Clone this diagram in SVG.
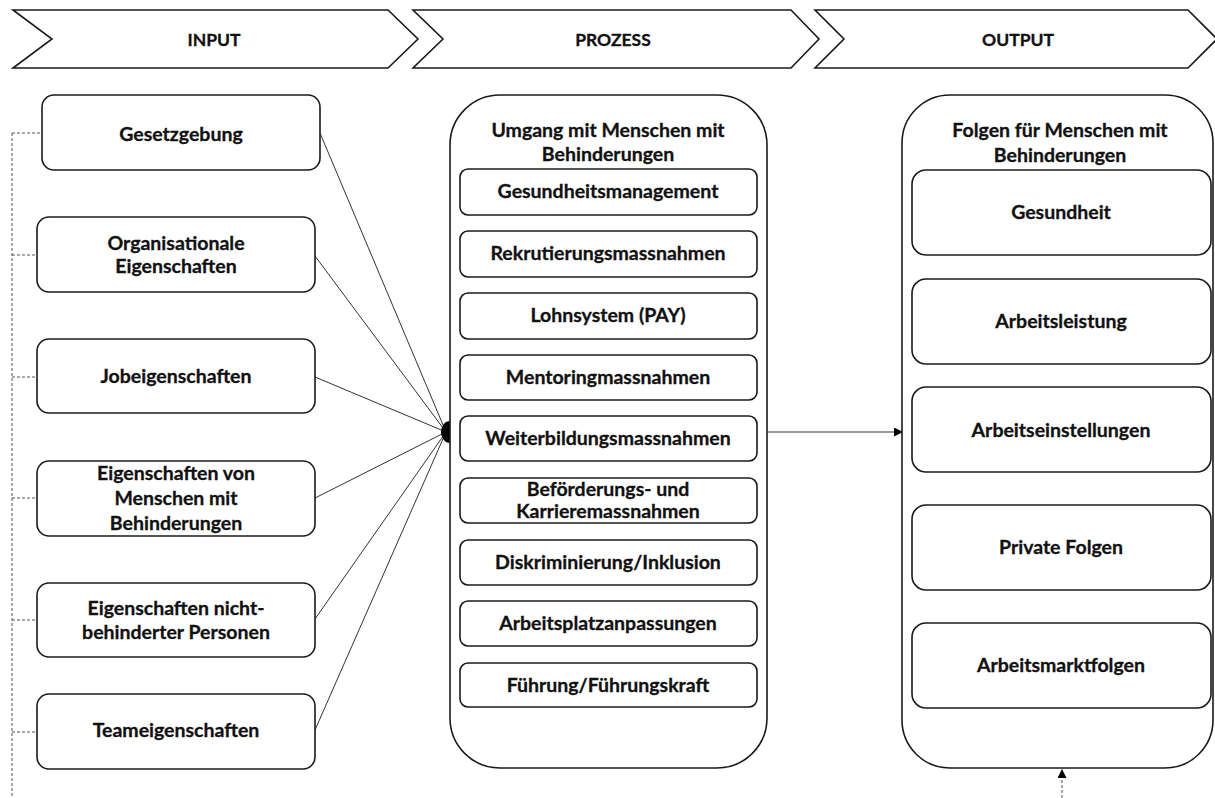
<svg xmlns="http://www.w3.org/2000/svg" width="1215" height="798" viewBox="0 0 1215 798">
<style>
  .shape { fill: #ffffff; stroke: #1a1a1a; stroke-width: 1.6; }
  .t { font-family: Lato, "Open Sans", "Liberation Sans", sans-serif; font-weight: bold; font-size: 19.5px; fill: #111111; stroke: #111111; stroke-width: 0.3; text-anchor: middle; }
  .th { font-family: Lato, "Open Sans", "Liberation Sans", sans-serif; font-weight: bold; font-size: 17.5px; fill: #111111; stroke: #111111; stroke-width: 0.3; text-anchor: middle; }
  .conn { stroke: #333333; stroke-width: 1; fill: none; }
  .dash { stroke: #555555; stroke-width: 1; fill: none; stroke-dasharray: 3 2; }
</style>
<defs>
  <marker id="arr" viewBox="0 0 10 10" refX="10" refY="5" markerWidth="9" markerHeight="9" markerUnits="userSpaceOnUse" orient="auto">
    <path d="M0,0 L10,5 L0,10 Z" fill="#000000"/>
  </marker>
</defs>

<g id="phase-input">
  <path class="shape" d="M13,10 L388,10 L418,39 L388,68 L13,68 L52,39 Z"/>
  <text class="th" x="214" y="46">INPUT</text>
</g>
<g id="phase-prozess">
  <path class="shape" d="M413,10 L791,10 L819,39 L791,68 L413,68 L443,39 Z"/>
  <text class="th" x="613" y="46">PROZESS</text>
</g>
<g id="phase-output">
  <path class="shape" d="M815,10 L1188,10 L1217,39 L1188,68 L815,68 L844,39 Z"/>
  <text class="th" x="1018" y="46">OUTPUT</text>
</g>

<g id="connectors">
  <path class="dash" d="M12,133 L12,798"/>
  <path class="dash" d="M12,133 L42,133"/>
  <path class="dash" d="M12,255 L37,255"/>
  <path class="dash" d="M12,377 L37,377"/>
  <path class="dash" d="M12,498 L37,498"/>
  <path class="dash" d="M12,620 L37,620"/>
  <path class="dash" d="M12,732 L37,732"/>
  <path class="conn" d="M320,133 L446,432"/>
  <path class="conn" d="M315,256 L446,432"/>
  <path class="conn" d="M315,377 L446,432"/>
  <path class="conn" d="M315,498 L446,432"/>
  <path class="conn" d="M315,619 L446,432"/>
  <path class="conn" d="M315,730 L446,432"/>
  <path d="M450,421 A9,11 0 0 0 450,443 Z" fill="#000000"/>
  <path class="conn" d="M767,432 L903,432" marker-end="url(#arr)"/>
  <path class="dash" d="M1062,798 L1062,769" marker-end="url(#arr)"/>
</g>

<g id="in-gesetzgebung">
  <rect class="shape" x="42" y="95" width="278" height="75" rx="12"/>
  <text class="t" x="181" y="141">Gesetzgebung</text>
</g>
<g id="in-organisationale">
  <rect class="shape" x="37" y="217" width="278" height="75" rx="12"/>
  <text class="t" x="176" y="250">Organisationale</text>
  <text class="t" x="176" y="273">Eigenschaften</text>
</g>
<g id="in-job">
  <rect class="shape" x="37" y="339" width="278" height="74" rx="12"/>
  <text class="t" x="176" y="383">Jobeigenschaften</text>
</g>
<g id="in-menschen">
  <rect class="shape" x="37" y="461" width="278" height="75" rx="12"/>
  <text class="t" x="176" y="480">Eigenschaften von</text>
  <text class="t" x="176" y="505">Menschen mit</text>
  <text class="t" x="176" y="530">Behinderungen</text>
</g>
<g id="in-nichtbehindert">
  <rect class="shape" x="37" y="583" width="278" height="74" rx="12"/>
  <text class="t" x="176" y="615">Eigenschaften nicht-</text>
  <text class="t" x="176" y="639">behinderter Personen</text>
</g>
<g id="in-team">
  <rect class="shape" x="37" y="694" width="278" height="75" rx="12"/>
  <text class="t" x="176" y="737">Teameigenschaften</text>
</g>

<g id="prozess">
  <rect class="shape" x="450" y="95" width="317" height="673" rx="50"/>
  <text class="t" x="608" y="137">Umgang mit Menschen mit</text>
  <text class="t" x="608" y="161">Behinderungen</text>
</g>
<g id="p-gesundheit">
  <rect class="shape" x="460" y="169" width="297" height="46" rx="8"/>
  <text class="t" x="608" y="198">Gesundheitsmanagement</text>
</g>
<g id="p-rekrutierung">
  <rect class="shape" x="460" y="231" width="297" height="46" rx="8"/>
  <text class="t" x="608" y="260">Rekrutierungsmassnahmen</text>
</g>
<g id="p-lohn">
  <rect class="shape" x="460" y="293" width="297" height="46" rx="8"/>
  <text class="t" x="608" y="322">Lohnsystem (PAY)</text>
</g>
<g id="p-mentoring">
  <rect class="shape" x="460" y="355" width="297" height="45" rx="8"/>
  <text class="t" x="608" y="384">Mentoringmassnahmen</text>
</g>
<g id="p-weiterbildung">
  <rect class="shape" x="460" y="416" width="297" height="45" rx="8"/>
  <text class="t" x="608" y="445">Weiterbildungsmassnahmen</text>
</g>
<g id="p-befoerderung">
  <rect class="shape" x="460" y="478" width="297" height="45" rx="8"/>
  <text class="t" x="608" y="496">Beförderungs- und</text>
  <text class="t" x="608" y="518">Karrieremassnahmen</text>
</g>
<g id="p-diskriminierung">
  <rect class="shape" x="460" y="540" width="297" height="45" rx="8"/>
  <text class="t" x="608" y="569">Diskriminierung/Inklusion</text>
</g>
<g id="p-arbeitsplatz">
  <rect class="shape" x="460" y="601" width="297" height="45" rx="8"/>
  <text class="t" x="608" y="630">Arbeitsplatzanpassungen</text>
</g>
<g id="p-fuehrung">
  <rect class="shape" x="460" y="663" width="297" height="44" rx="8"/>
  <text class="t" x="608" y="692">Führung/Führungskraft</text>
</g>

<g id="output">
  <rect class="shape" x="902" y="95" width="311" height="673" rx="48"/>
  <text class="t" x="1060" y="137">Folgen für Menschen mit</text>
  <text class="t" x="1060" y="162">Behinderungen</text>
</g>
<g id="o-gesundheit">
  <rect class="shape" x="912" y="170" width="299" height="85" rx="14"/>
  <text class="t" x="1061" y="219">Gesundheit</text>
</g>
<g id="o-arbeitsleistung">
  <rect class="shape" x="912" y="279" width="299" height="85" rx="14"/>
  <text class="t" x="1061" y="328">Arbeitsleistung</text>
</g>
<g id="o-arbeitseinstellungen">
  <rect class="shape" x="912" y="387" width="299" height="85" rx="14"/>
  <text class="t" x="1061" y="437">Arbeitseinstellungen</text>
</g>
<g id="o-private">
  <rect class="shape" x="912" y="505" width="299" height="85" rx="14"/>
  <text class="t" x="1061" y="554">Private Folgen</text>
</g>
<g id="o-arbeitsmarkt">
  <rect class="shape" x="912" y="623" width="299" height="85" rx="14"/>
  <text class="t" x="1061" y="672">Arbeitsmarktfolgen</text>
</g>
</svg>
